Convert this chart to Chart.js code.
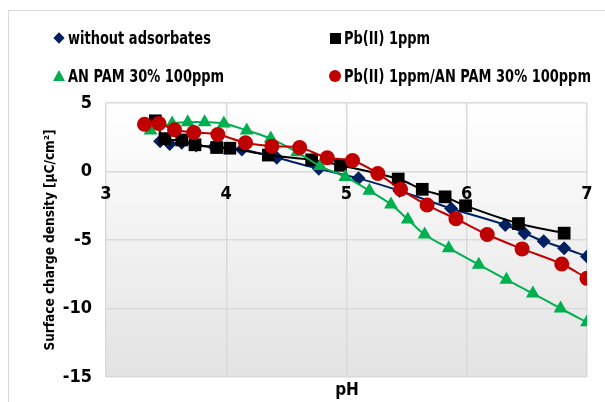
<!DOCTYPE html>
<html><head><meta charset="utf-8">
<script src="https://cdn.jsdelivr.net/npm/chart.js@4"></script>
<style>
html,body{margin:0;padding:0;background:#fff;}
#wrap{position:relative;width:605px;height:402px;overflow:hidden;font-family:"Liberation Sans Narrow","DejaVu Sans Condensed",sans-serif;font-weight:bold;}
#frame{position:absolute;left:8px;top:10px;width:640px;height:440px;border:1px solid #d9d9d9;box-sizing:border-box;}
canvas{position:absolute;left:0;top:0;}
.lg{position:absolute;font-size:17px;color:#000;white-space:nowrap;line-height:20px;transform:scaleX(0.85);transform-origin:0 50%;}
.mk{position:absolute;}
#xt{position:absolute;left:327px;width:40px;text-align:center;top:379px;font-size:17px;line-height:20px;}
</style></head>
<body>
<div id="wrap">
  <div id="frame"></div>
  <canvas id="c" width="605" height="402"></canvas>
  <div id="legend"></div>
  <div id="xt">pH</div>
</div>
<script>
// ---- data ----
const seriesNames = ["without adsorbates", "Pb(II) 1ppm", "AN PAM 30% 100ppm", "Pb(II) 1ppm/AN PAM 30% 100ppm"];

const phBlank = [3.45, 3.53, 3.63, 3.75, 3.90, 4.13, 4.42, 4.77, 5.10, 5.44, 5.87, 6.32, 6.48, 6.64, 6.81, 7.00];
const qBlank  = [2.2, 2.0, 2.1, 1.9, 1.8, 1.6, 1.0, 0.2, -0.5, -1.4, -2.7, -3.9, -4.5, -5.1, -5.6, -6.2];

const phPb = [3.41, 3.49, 3.63, 3.74, 3.92, 4.03, 4.35, 4.71, 4.95, 5.43, 5.63, 5.82, 5.99, 6.43, 6.81];
const qPb  = [3.7, 2.4, 2.3, 1.95, 1.75, 1.7, 1.2, 0.85, 0.45, -0.55, -1.3, -1.85, -2.5, -3.8, -4.5];

const phPam = [3.37, 3.55, 3.68, 3.82, 3.98, 4.17, 4.37, 4.59, 4.78, 4.99, 5.19, 5.37, 5.51, 5.65, 5.85, 6.10, 6.33, 6.55, 6.78, 7.00];
const qPam  = [3.0, 3.5, 3.6, 3.6, 3.5, 3.0, 2.4, 1.4, 0.4, -0.4, -1.4, -2.4, -3.5, -4.6, -5.6, -6.8, -7.9, -8.9, -10.0, -11.0];

const phPbPam = [3.32, 3.44, 3.57, 3.73, 3.93, 4.16, 4.38, 4.61, 4.84, 5.05, 5.26, 5.45, 5.67, 5.91, 6.17, 6.46, 6.79, 7.00];
const qPbPam  = [3.45, 3.5, 3.05, 2.85, 2.7, 2.1, 1.85, 1.75, 1.0, 0.8, -0.15, -1.3, -2.45, -3.45, -4.6, -5.65, -6.75, -7.8];

const xTicks = [3, 4, 5, 6, 7];
const yTicks = [5, 0, -5, -10, -15];
// -----------------------------------------------

const FONT = '"Liberation Sans Narrow","DejaVu Sans Condensed",sans-serif';
const colors = ['#002060', '#000000', '#00B050', '#C00000'];
const shapes = ['rectRot', 'rect', 'triangle', 'circle'];
const radii = [7, 9, 8, 7.5];
const xs = [phBlank, phPb, phPam, phPbPam];
const ys = [qBlank, qPb, qPam, qPbPam];

const datasets = seriesNames.map((n, i) => ({
  label: n,
  data: xs[i].map((x, k) => ({x: x, y: ys[i][k]})),
  borderColor: colors[i],
  backgroundColor: colors[i],
  pointBackgroundColor: colors[i],
  pointBorderColor: colors[i],
  pointBorderWidth: 0,
  pointStyle: shapes[i],
  pointRadius: radii[i],
  pointHoverRadius: radii[i],
  borderWidth: 2,
  tension: 0.35,
  showLine: true,
  order: 4 - i
}));

// legend (HTML, built from the series names)
const lg = document.getElementById('legend');
const pos = [[68, 28], [344, 28], [68, 66], [344, 66]];
const mk = [
  '<div class="mk" style="left:55px;top:34px;width:8px;height:8px;background:#002060;transform:rotate(45deg)"></div>',
  '<div class="mk" style="left:330px;top:33px;width:11px;height:11px;background:#000"></div>',
  '<div class="mk" style="left:53px;top:70px;width:0;height:0;border-left:6px solid transparent;border-right:6px solid transparent;border-bottom:11px solid #00B050"></div>',
  '<div class="mk" style="left:329px;top:70px;width:12px;height:12px;border-radius:50%;background:#C00000"></div>'
];
seriesNames.forEach((n, i) => {
  lg.insertAdjacentHTML('beforeend', mk[i] + '<div class="lg" style="left:' + pos[i][0] + 'px;top:' + pos[i][1] + 'px">' + n + '</div>');
});

const bgPlugin = {
  id: 'bg',
  beforeDraw(chart) {
    const {ctx, chartArea: {left, top, right, bottom}} = chart;
    const g = ctx.createLinearGradient(0, top, 0, bottom);
    g.addColorStop(0, '#ffffff');
    g.addColorStop(1, '#e3e3e3');
    ctx.save();
    ctx.fillStyle = g;
    ctx.fillRect(left, top, right - left, bottom - top);
    ctx.restore();
  }
};

new Chart(document.getElementById('c'), {
  type: 'scatter',
  data: {datasets},
  plugins: [bgPlugin],
  options: {
    responsive: false,
    animation: false,
    devicePixelRatio: 1,
    layout: {padding: {left: 0, top: 103, right: 18, bottom: 25}},
    plugins: {legend: {display: false}, tooltip: {enabled: false}},
    scales: {
      x: {
        type: 'linear',
        position: {y: 0},
        min: 3, max: 7,
        afterBuildTicks: (s) => { s.ticks = xTicks.map(v => ({value: v})); },
        grid: {color: '#d9d9d9', lineWidth: 1.5, drawTicks: false},
        border: {display: false},
        ticks: {padding: 12, color: '#000', font: {family: FONT, size: 18, weight: 'bold'}}
      },
      y: {
        type: 'linear',
        position: 'left',
        min: -15, max: 5,
        afterBuildTicks: (s) => { s.ticks = yTicks.map(v => ({value: v})); },
        afterFit: (s) => { s.width = 106; },
        grid: {color: '#d9d9d9', lineWidth: 1.5, drawTicks: false},
        border: {display: false},
        ticks: {padding: 14, color: '#000', font: {family: FONT, size: 18, weight: 'bold'}},
        title: {display: true, text: 'Surface charge density [μC/cm²]', color: '#000',
                padding: {top: 42, bottom: 0}, font: {family: FONT, size: 13.5, weight: 'bold'}}
      }
    }
  }
});
</script>
</body></html>
